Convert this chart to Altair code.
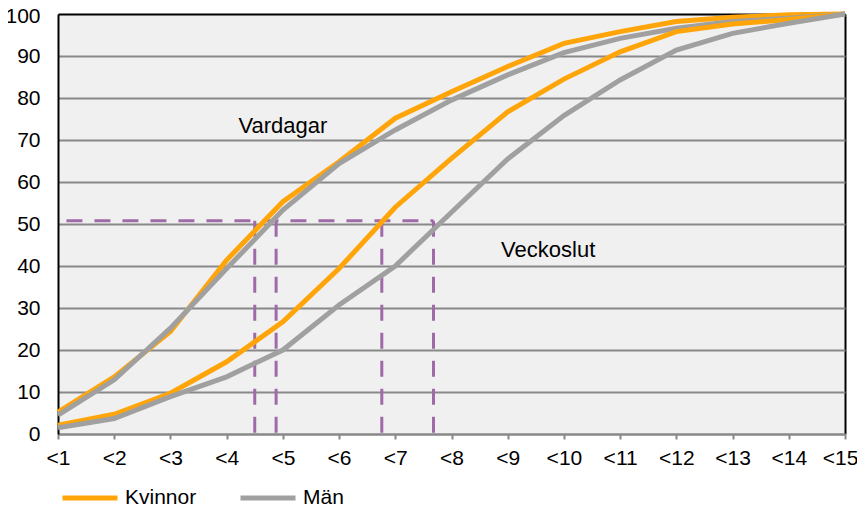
import altair as alt
import pandas as pd

# ---- data ----
x_labels = ["<1", "<2", "<3", "<4", "<5", "<6", "<7", "<8", "<9", "<10", "<11", "<12", "<13", "<14", "<15"]
genders = ["Kvinnor", "Män"]

vardagar_kvinnor = [5.2, 13.6, 24.4, 41.4, 55.3, 64.8, 75.2, 81.5, 87.5, 93.0, 95.8, 98.2, 99.2, 99.8, 100]
vardagar_man = [4.5, 12.9, 25.2, 39.4, 53.3, 64.4, 72.4, 79.5, 85.5, 90.8, 94.2, 96.6, 98.2, 99.0, 100]
veckoslut_kvinnor = [2.1, 4.7, 9.7, 17.2, 26.7, 39.4, 54.0, 65.6, 76.7, 84.5, 91.0, 95.8, 97.6, 98.7, 100]
veckoslut_man = [1.5, 3.7, 8.9, 13.6, 20.0, 30.7, 40.0, 52.8, 65.5, 75.8, 84.3, 91.4, 95.4, 97.8, 100]

# median guide lines (x in category index units, y in percent)
median_level = 50.8
median_h_start = 0.15
median_x = [3.50, 3.88, 5.76, 6.68]

annot_text = ["Vardagar", "Veckoslut"]
annot_x = [4.0, 8.72]
annot_y = [71.7, 42.1]

ORANGE = "#FFA50A"
GRAY = "#A0A0A0"
PURPLE = "#9E6BA8"
FONT = "Liberation Sans"

idx = list(range(len(x_labels)))
last = len(x_labels) - 1


def series_df(kv, man):
    return pd.DataFrame({
        "x": idx * 2,
        "v": kv + man,
        "kön": [genders[0]] * len(idx) + [genders[1]] * len(idx),
    })


df_vard = series_df(vardagar_kvinnor, vardagar_man)
df_veck = series_df(veckoslut_kvinnor, veckoslut_man)

label_expr = "[" + ",".join("'" + s + "'" for s in x_labels) + "][datum.value]"

x_scale = alt.Scale(domain=[0, last], nice=False, zero=False)
y_scale = alt.Scale(domain=[0, 100], nice=False)

x_axis = alt.Axis(
    values=idx, labelExpr=label_expr, title=None,
    labelFontSize=21, labelFont=FONT, labelColor="black", labelPadding=8,
    labelOverlap=False, labelBound=False, labelFlush=False,
    labelOffset=alt.ExprRef("datum.value == %d ? -5 : 0" % last),
    domainColor="#888888", domainWidth=2,
    tickColor="#888888", tickWidth=2, tickSize=5,
    grid=True, gridColor="black", gridWidth=2,
    gridOpacity=alt.ExprRef("datum.value == %d ? 1 : 0" % last),
)
y_axis = alt.Axis(
    values=list(range(0, 101, 10)), title=None,
    labelFontSize=21, labelFont=FONT, labelColor="black", labelPadding=18,
    labelOverlap=False, labelFlush=False, labelBound=False,
    labelOffset=alt.ExprRef("datum.value == 100 ? 2 : 0"),
    ticks=False, tickSize=0,
    domainColor="black", domainWidth=2,
    grid=True, gridWidth=2,
    gridColor=alt.ExprRef("datum.value == 100 ? 'black' : '#888888'"),
)

color = alt.Color(
    "kön:N",
    scale=alt.Scale(domain=genders, range=[ORANGE, GRAY]),
    legend=alt.Legend(
        title=None, orient="none", legendX=2, legendY=454, direction="horizontal",
        symbolType="stroke", symbolSize=3025, symbolStrokeWidth=5,
        labelFontSize=21, labelFont=FONT, labelColor="black", labelOffset=5,
        columnPadding=33, padding=0,
    ),
)

# dashed median guides
h_df = pd.DataFrame({"x": [median_h_start], "x2": [max(median_x)], "y": [median_level]})
h_rule = alt.Chart(h_df).mark_rule(color=PURPLE, strokeWidth=3, strokeDash=[16, 12]).encode(
    x=alt.X("x:Q", scale=x_scale, axis=x_axis), x2="x2:Q",
    y=alt.Y("y:Q", scale=y_scale, axis=y_axis),
)
v_df = pd.DataFrame({"x": median_x, "y": [median_level] * len(median_x), "y2": [0] * len(median_x)})
v_rule = alt.Chart(v_df).mark_rule(color=PURPLE, strokeWidth=3, strokeDash=[16, 12]).encode(
    x=alt.X("x:Q", scale=x_scale, axis=x_axis),
    y=alt.Y("y:Q", scale=y_scale, axis=y_axis), y2="y2:Q",
)

line_vard = alt.Chart(df_vard).mark_line(strokeWidth=5).encode(
    x=alt.X("x:Q", scale=x_scale, axis=x_axis),
    y=alt.Y("v:Q", scale=y_scale, axis=y_axis),
    color=color,
)
line_veck = alt.Chart(df_veck).mark_line(strokeWidth=5).encode(
    x=alt.X("x:Q", scale=x_scale, axis=x_axis),
    y=alt.Y("v:Q", scale=y_scale, axis=y_axis),
    color=color,
)

t_df = pd.DataFrame({"t": annot_text, "x": annot_x, "y": annot_y})
texts = alt.Chart(t_df).mark_text(
    font=FONT, fontSize=22, color="black", align="center", baseline="alphabetic"
).encode(
    x=alt.X("x:Q", scale=x_scale, axis=x_axis),
    y=alt.Y("y:Q", scale=y_scale, axis=y_axis),
    text="t:N",
)

chart = alt.layer(h_rule, v_rule, line_vard, line_veck, texts).properties(
    width=787, height=420,
    padding={"left": 50, "top": 6, "right": 12, "bottom": 74},
    autosize=alt.AutoSizeParams(type="none"),
    background="white",
).configure_view(fill="#F0F0F0", stroke="transparent")

chart.save("out.html", embed_options={"renderer": "svg", "actions": False})
